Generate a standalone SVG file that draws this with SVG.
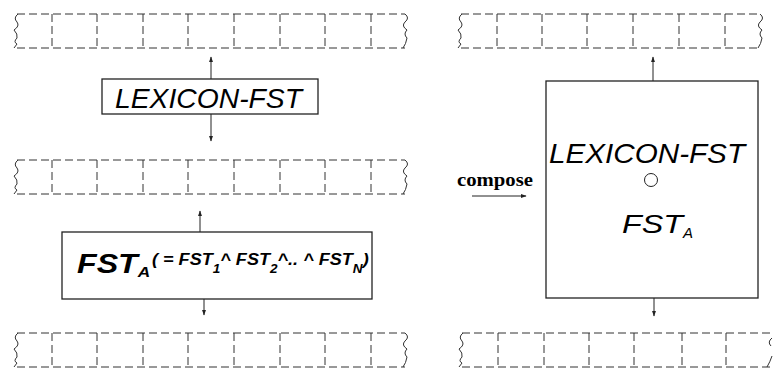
<svg xmlns="http://www.w3.org/2000/svg" width="775" height="369" viewBox="0 0 775 369">
<style>
.tape{fill:none;stroke:#333;stroke-width:1;stroke-dasharray:8 4}
.wave{fill:none;stroke:#333;stroke-width:1}
.box{fill:#fff;stroke:#222;stroke-width:1.3}
.conn{fill:none;stroke:#222;stroke-width:1}
.it{font-family:"Liberation Sans",Arial,sans-serif;font-style:italic;fill:#000}
.bd{font-weight:bold}
.serif{font-family:"Liberation Serif","Times New Roman",serif;font-weight:bold;fill:#000}
</style>
<defs>
<marker id="ah" viewBox="0 0 10 10" refX="9" refY="5" markerWidth="6" markerHeight="6" markerUnits="userSpaceOnUse" orient="auto">
<path d="M0,1.5 L10,5 L0,8.5 z" fill="#222"/>
</marker>
<g id="tapeL">
<path class="tape" d="M0,0 H388 M0,34 H388 M35,0 V34 M80,0 V34 M126,0 V34 M171,0 V34 M217,0 V34 M263,0 V34 M308,0 V34 M354,0 V34"/>
<path class="wave" d="M1,0 Q-4,4 0,8 Q3,12 -3,16 Q1,20 0,24 Q-4,28 0,30 L-3,34"/>
<path class="wave" d="M388,0 Q393,4 388,8 Q384,12 390,16 Q386,20 390,24 Q389,30 386,34"/>
</g>
</defs>

<g id="tape-left-1"><use href="#tapeL" transform="translate(17,14)"/></g>
<g id="tape-left-2"><use href="#tapeL" transform="translate(17,160)"/></g>
<g id="tape-left-3"><use href="#tapeL" transform="translate(17,333)"/></g>

<g id="tape-right-1">
<path class="tape" d="M461,14 H760 M461,48 H760 M497,14 V48 M542,14 V48 M587,14 V48 M633,14 V48 M679,14 V48 M725,14 V48"/>
<path class="wave" d="M462,14 Q457,18 461,22 Q464,26 458,30 Q462,34 461,38 Q457,42 461,44 L458,48"/>
<path class="wave" d="M760,14 Q765,18 760,22 Q756,26 762,30 Q758,34 762,38 Q761,44 758,48"/>
</g>
<g id="tape-right-2">
<path class="tape" d="M462,333 H773 M462,367 H773 M498,333 V367 M544,333 V367 M589,333 V367 M634,333 V367 M682,333 V367 M726,333 V367"/>
<path class="wave" d="M463,333 Q458,337 462,341 Q465,345 459,349 Q463,353 462,357 Q458,361 462,363 L459,367"/>
<path class="wave" d="M772,338 Q767,342 771,346 M772,356 Q770,362 767,367"/>
</g>

<g id="lexicon-fst">
<rect class="box" x="102" y="79" width="216" height="35"/>
<text class="it" x="115" y="108" font-size="28" textLength="187" lengthAdjust="spacingAndGlyphs">LEXICON-FST</text>
</g>

<g id="fst-a">
<rect class="box" x="62" y="232" width="310" height="67"/>
<text class="it bd" transform="translate(77,273) scale(1.15,1)" font-size="28">FST<tspan font-size="15" dy="4">A</tspan></text>
<text class="it bd" transform="translate(152,265) scale(1.13,1)" font-size="16">( = FST<tspan font-size="12" dy="8">1</tspan><tspan dy="-8">^ FST</tspan><tspan font-size="12" dy="8">2</tspan><tspan dy="-8">^.. ^ FST</tspan><tspan font-size="12" dy="8">N</tspan><tspan dy="-8">)</tspan></text>
</g>

<g id="composed">
<rect class="box" x="546" y="81" width="212" height="217"/>
<text class="it" x="549" y="163" font-size="28" textLength="196" lengthAdjust="spacingAndGlyphs">LEXICON-FST</text>
<circle cx="651" cy="180" r="6.5" fill="none" stroke="#222" stroke-width="1"/>
<text class="it" x="622" y="233" font-size="25" textLength="61" lengthAdjust="spacingAndGlyphs">FST</text>
<text class="it" x="683" y="238" font-size="15">A</text>
</g>

<g id="compose-label">
<text class="serif" x="457" y="186" font-size="19" textLength="76" lengthAdjust="spacingAndGlyphs">compose</text>
</g>

<g id="connectors">
<line class="conn" x1="211" y1="79" x2="211" y2="57" marker-end="url(#ah)"/>
<line class="conn" x1="211" y1="114" x2="211" y2="141" marker-end="url(#ah)"/>
<line class="conn" x1="200" y1="232" x2="200" y2="211" marker-end="url(#ah)"/>
<line class="conn" x1="204" y1="299" x2="204" y2="315" marker-end="url(#ah)"/>
<line class="conn" x1="653" y1="81" x2="653" y2="57" marker-end="url(#ah)"/>
<line class="conn" x1="654" y1="298" x2="654" y2="316" marker-end="url(#ah)"/>
<line class="conn" x1="472" y1="196" x2="526" y2="196" marker-end="url(#ah)"/>
</g>
</svg>
